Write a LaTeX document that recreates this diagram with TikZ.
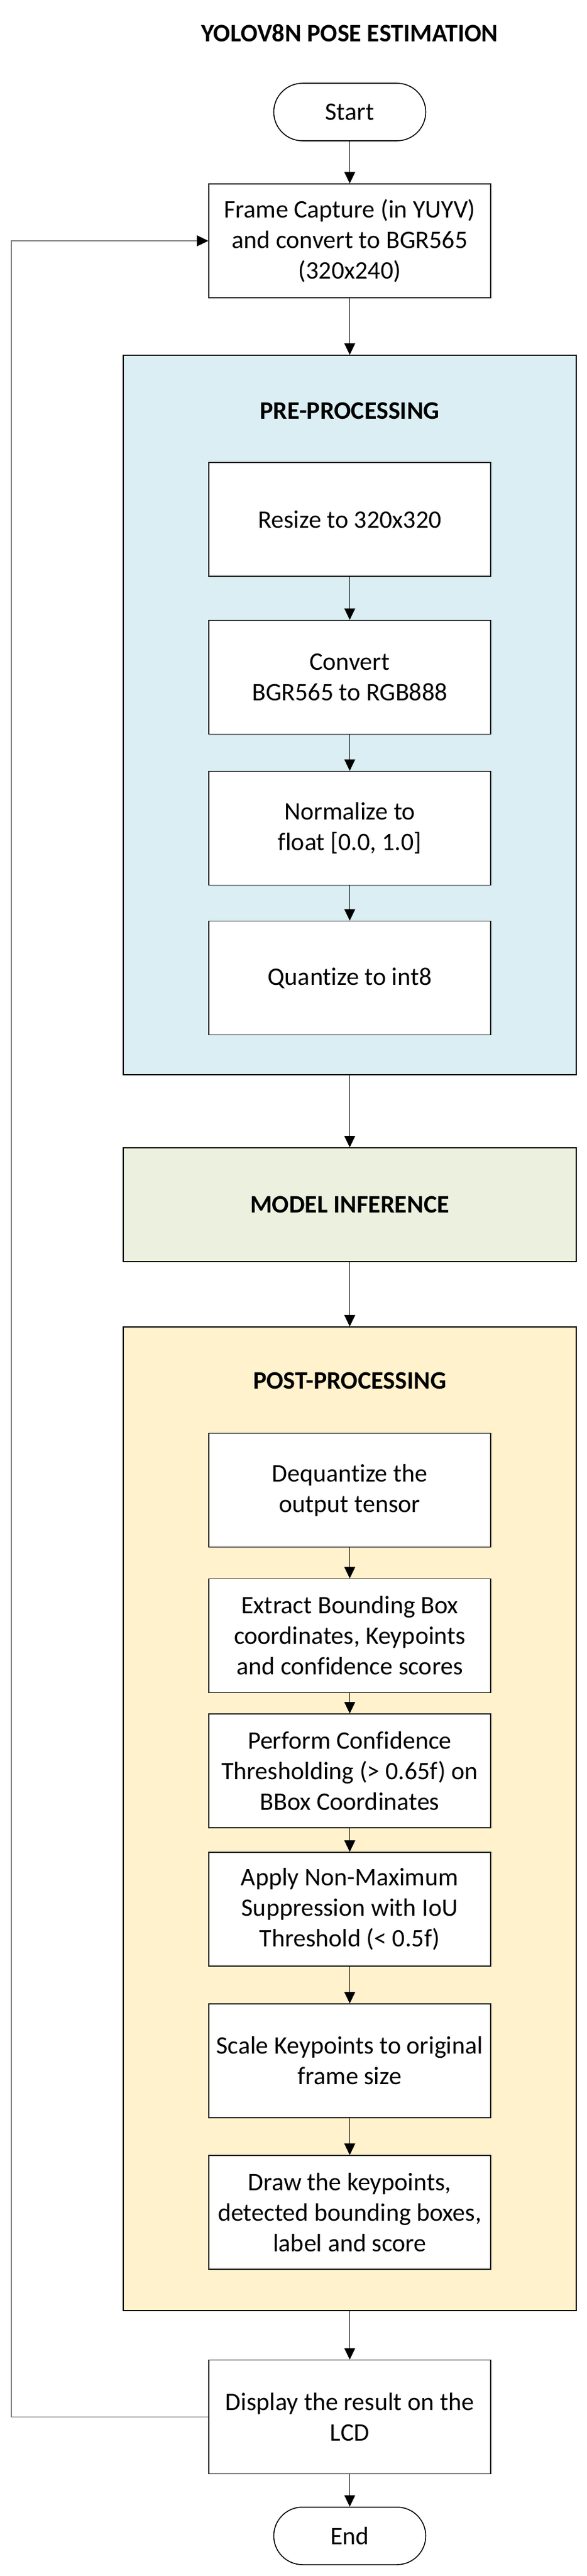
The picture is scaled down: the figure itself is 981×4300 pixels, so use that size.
\documentclass[tikz,border=0pt]{standalone}
\usepackage{fontspec}
\setmainfont{Carlito}[Ligatures=NoCommon]
\usetikzlibrary{arrows.meta}
\definecolor{preblue}{HTML}{DAEEF3}
\definecolor{modgreen}{HTML}{EBF1DE}
\definecolor{postyel}{HTML}{FFF2CC}
\definecolor{fbgray}{HTML}{808080}
\begin{document}
\begin{tikzpicture}[x=1pt,y=-1pt,
  every node/.style={font=\fontsize{42}{51}\selectfont},
  stepbox/.style={draw=black,line width=1.6pt,fill=white,minimum width=471pt,minimum height=190pt,inner sep=0pt,align=center},
  term/.style={draw=black,line width=1.6pt,fill=white,rounded corners=48pt,minimum width=254pt,minimum height=96pt,inner sep=0pt},
  group/.style={draw=black,line width=1.6pt,minimum width=757pt,inner sep=0pt},
  grouplabel/.style={font=\fontsize{42}{51}\selectfont\bfseries},
  conn/.style={line width=1.1pt,-{Triangle[length=19pt,width=18pt]}},
  feedback/.style={line width=1.1pt,draw=fbgray,-{Triangle[length=19pt,width=18pt,color=black]}},
]
\useasboundingbox (0,0) rectangle (981,4300);
\fill[white] (0,0) rectangle (981,4300);

% title
\node[grouplabel] (title) at (584.5,55) {YOLOV8N POSE ESTIMATION};

% start and frame capture
\node[term] (start) at (584.5,187) {Start};
\node[stepbox] (frame) at (584.5,402) {Frame Capture (in YUYV)\\and convert to BGR565\\(320x240)};

% pre-processing group
\node[group,fill=preblue,minimum height=1201pt] (pre) at (584.5,1193.5) {};
\node[grouplabel] (prelabel) at (584.5,686) {PRE-PROCESSING};
\node[stepbox] (resize) at (584.5,867) {Resize to 320x320};
\node[stepbox] (convert) at (584.5,1130.5) {Convert\\BGR565 to RGB888};
\node[stepbox] (normalize) at (584.5,1382.5) {Normalize to\\float [0.0, 1.0]};
\node[stepbox] (quant) at (584.5,1632.5) {Quantize to int8};

% model inference
\node[group,fill=modgreen,minimum height=190pt,font=\fontsize{42}{51}\selectfont\bfseries] (model) at (584.5,2011) {MODEL INFERENCE};

% post-processing group
\node[group,fill=postyel,minimum height=1642pt] (post) at (584.5,3036) {};
\node[grouplabel] (postlabel) at (584.5,2305) {POST-PROCESSING};
\node[stepbox] (dequant) at (584.5,2487.5) {Dequantize the\\output tensor};
\node[stepbox] (extract) at (584.5,2730.5) {Extract Bounding Box\\coordinates, Keypoints\\and confidence scores};
\node[stepbox] (perform) at (584.5,2956) {Perform Confidence\\Thresholding (> 0.65f) on\\BBox Coordinates};
\node[stepbox] (apply) at (584.5,3187) {Apply Non-Maximum\\Suppression with IoU\\Threshold (< 0.5f)};
\node[stepbox] (scale) at (584.5,3440) {Scale Keypoints to original\\frame size};
\node[stepbox] (drawkp) at (584.5,3693) {Draw the keypoints,\\detected bounding boxes,\\label and score};

% display and end
\node[stepbox] (disp) at (584.5,4034.5) {Display the result on the\\LCD};
\node[term] (end) at (584.5,4233) {End};

% connectors
\draw[conn] (start) -- (frame);
\draw[conn] (frame) -- (pre.north);
\draw[conn] (resize) -- (convert);
\draw[conn] (convert) -- (normalize);
\draw[conn] (normalize) -- (quant);
\draw[conn] (pre.south) -- (model.north);
\draw[conn] (model.south) -- (post.north);
\draw[conn] (dequant) -- (extract);
\draw[conn] (extract) -- (perform);
\draw[conn] (perform) -- (apply);
\draw[conn] (apply) -- (scale);
\draw[conn] (scale) -- (drawkp);
\draw[conn] (post.south) -- (disp.north);
\draw[conn] (disp) -- (end);

% feedback loop
\coordinate (fbcorner) at (19,4034.5);
\draw[feedback] (disp.west) -- (fbcorner) |- (frame.west);
\end{tikzpicture}
\end{document}
